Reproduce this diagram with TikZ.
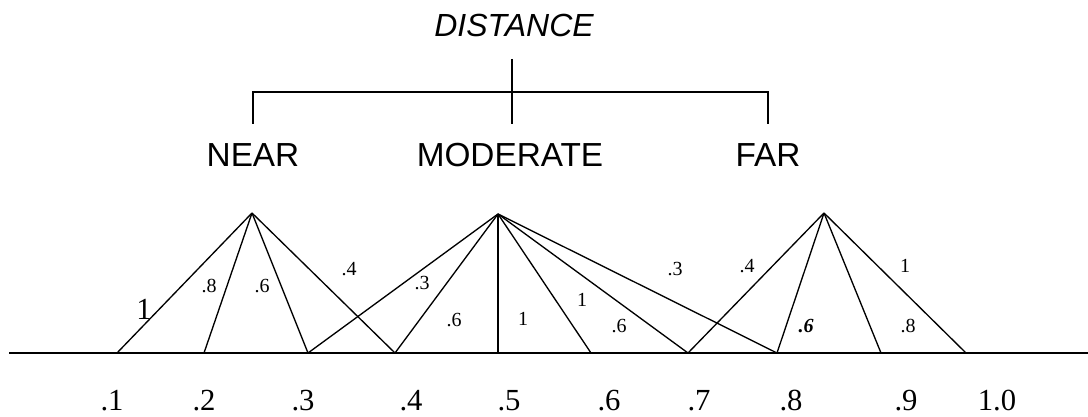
\documentclass[tikz,border=0pt]{standalone}
\usepackage{fontspec}
\setmainfont{Liberation Serif}
\setsansfont{Liberation Sans}
\usetikzlibrary{calc}

\tikzset{
  tree line/.style={line width=1.9pt},
  member line/.style={line width=1pt},
  axis line/.style={line width=1.5pt},
  term/.style={inner sep=0pt, font=\sffamily\fontsize{25}{25}\selectfont},
  grade/.style={inner sep=0pt, font=\fontsize{15}{15}\selectfont},
  tick label/.style={inner sep=0pt, font=\fontsize{23}{23}\selectfont},
}

\begin{document}
\begin{tikzpicture}[x=0.75pt, y=-0.75pt]
  % canvas 1088 x 417 px, y grows downwards
  \useasboundingbox (0,0) rectangle (1088,417);

  % ---------------- tree: DISTANCE -> NEAR / MODERATE / FAR ----------------
  \node[term, font=\sffamily\itshape\fontsize{24}{24}\selectfont] (distance) at (514,25) {DISTANCE};
  \node[term] (near) at (253,155) {NEAR};
  \node[term] (moderate) at (510,155) {MODERATE};
  \node[term] (far) at (768,155) {FAR};

  \coordinate (root) at (512,59);
  \coordinate (bar) at (512,92);
  \coordinate (near leg) at (253,124);
  \coordinate (moderate leg) at (512,124);
  \coordinate (far leg) at (768,124);

  \draw[tree line] (root) -- (moderate leg);
  \draw[tree line] (near leg) -- (near leg |- bar) -- (far leg |- bar) -- (far leg);

  % ---------------- axis and membership lines ----------------
  \coordinate (axis start) at (9,353);
  \coordinate (axis end) at (1088,353);
  \draw[axis line] (axis start) -- (axis end);

  \foreach \n/\x in {1/117, 2/204, 3/308, 4/395, 5/498, 6/591, 7/688, 8/777, 9/881, 10/966} {
    \coordinate (b\n) at (\x,353);
  }

  \coordinate (near apex) at (252,213);
  \coordinate (moderate apex) at (498,214);
  \coordinate (far apex) at (824,213);

  \foreach \n in {1,...,4} \draw[member line] (near apex) -- (b\n);
  \foreach \n in {3,...,8} \draw[member line] (moderate apex) -- (b\n);
  \foreach \n in {7,...,10} \draw[member line] (far apex) -- (b\n);

  % grades on the lines
  \node[tick label] (grade big) at (144,309) {1};
  \foreach \x/\y/\g [count=\i] in {209/286/.8, 262/286/.6, 349/269/.4,
      422/283/.3, 454/320/.6, 523/319/1, 582/300/1, 619/326/.6, 675/269/.3,
      747/266/.4, 905/266/1, 908/326/.8} {
    \node[grade] (grade\i) at (\x,\y) {\g};
  }
  \node[grade, font=\fontsize{15}{15}\selectfont\bfseries\itshape] (grade bold) at (806,326) {.6};

  % ---------------- axis values ----------------
  \foreach \x/\lab [count=\i] in {112/.1, 204/.2, 303/.3, 411/.4, 509/.5,
      609/.6, 699/.7, 791/.8, 906/.9, 997/1.0} {
    \node[tick label] (tick\i) at (\x,401) {\lab};
  }
\end{tikzpicture}
\end{document}
